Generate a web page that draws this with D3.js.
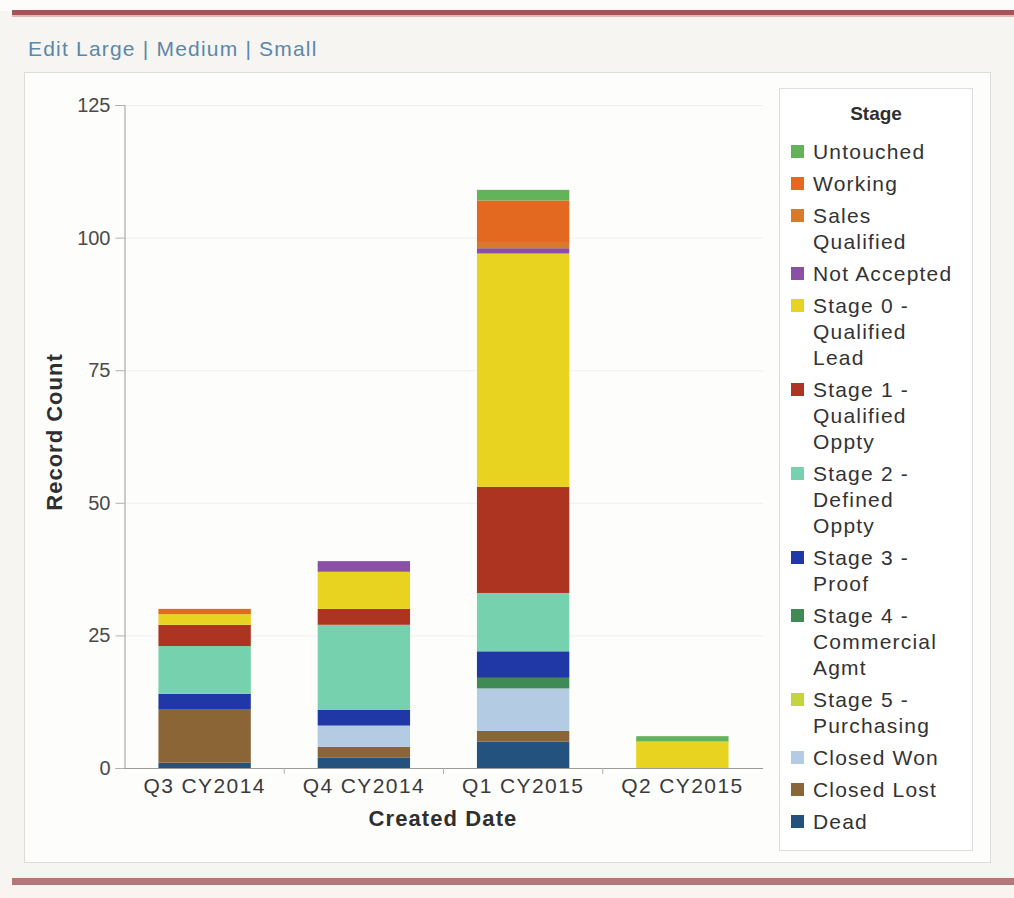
<!DOCTYPE html>
<html>
<head>
<meta charset="utf-8">
<script src="https://d3js.org/d3.v7.min.js"></script>
<style>
  body { margin: 0; background: #ffffff; }
  text { font-family: "Liberation Sans", Arial, sans-serif; }
</style>
</head>
<body>
<div id="my_dataviz"></div>
<script>
// categories and series (legend order, top to bottom)
var quarters = ["Q3 CY2014", "Q4 CY2014", "Q1 CY2015", "Q2 CY2015"];
var stages = ["Untouched", "Working", "Sales Qualified", "Not Accepted",
  "Stage 0 - Qualified Lead", "Stage 1 - Qualified Oppty", "Stage 2 - Defined Oppty",
  "Stage 3 - Proof", "Stage 4 - Commercial Agmt", "Stage 5 - Purchasing",
  "Closed Won", "Closed Lost", "Dead"];
var stageLines = [["Untouched"], ["Working"], ["Sales", "Qualified"], ["Not Accepted"],
  ["Stage 0 -", "Qualified", "Lead"], ["Stage 1 -", "Qualified", "Oppty"],
  ["Stage 2 -", "Defined", "Oppty"], ["Stage 3 -", "Proof"],
  ["Stage 4 -", "Commercial", "Agmt"], ["Stage 5 -", "Purchasing"],
  ["Closed Won"], ["Closed Lost"], ["Dead"]];
var stageColors = ["#63b35a", "#e2691f", "#d77a2c", "#8b4fa6", "#e9d321", "#ad3420",
  "#76d2ae", "#1f38a6", "#3f8a55", "#c4d43c", "#b3cbe3", "#8b6535", "#24527f"];

// record counts per quarter
var untouched    = [0, 0, 2, 1];
var working      = [1, 0, 8, 0];
var salesQual    = [0, 0, 1, 0];
var notAccepted  = [0, 2, 1, 0];
var stage0       = [2, 7, 44, 5];
var stage1       = [4, 3, 20, 0];
var stage2       = [9, 16, 11, 0];
var stage3       = [3, 3, 5, 0];
var stage4       = [0, 0, 2, 0];
var stage5       = [0, 0, 0, 0];
var closedWon    = [0, 4, 8, 0];
var closedLost   = [10, 2, 2, 0];
var dead         = [1, 2, 5, 0];

var yTicks = [0, 25, 50, 75, 100, 125];

var series = [untouched, working, salesQual, notAccepted, stage0, stage1, stage2,
  stage3, stage4, stage5, closedWon, closedLost, dead];

// build table rows for d3.stack
var data = quarters.map(function(q, i) {
  var row = {quarter: q};
  stages.forEach(function(s, j) { row[s] = series[j][i]; });
  return row;
});

var W = 1014, H = 898;
var svg = d3.select("#my_dataviz")
  .append("svg")
    .attr("width", W)
    .attr("height", H);

// page background and frame
svg.append("rect").attr("x", 0).attr("y", 0).attr("width", W).attr("height", H).attr("fill", "#f7f5f2");
svg.append("rect").attr("x", 0).attr("y", 0).attr("width", W).attr("height", 11).attr("fill", "#fdfcfb");
svg.append("rect").attr("x", 12).attr("y", 10).attr("width", W - 12).attr("height", 5).attr("fill", "#9f5757");
svg.append("rect").attr("x", 12).attr("y", 15).attr("width", W - 12).attr("height", 2).attr("fill", "#dcb9b6");
svg.append("rect").attr("x", 0).attr("y", 886).attr("width", W).attr("height", 12).attr("fill", "#fbf3f0");
svg.append("rect").attr("x", 12).attr("y", 878).attr("width", W - 12).attr("height", 7).attr("fill", "#b47777");

svg.append("text")
  .attr("x", 28)
  .attr("y", 56)
  .attr("fill", "#5b87a8")
  .style("font-size", "21px")
  .style("letter-spacing", "1.2px")
  .text("Edit Large | Medium | Small");

svg.append("rect")
  .attr("x", 24.5).attr("y", 72.5)
  .attr("width", 966).attr("height", 790)
  .attr("fill", "#fdfdfc")
  .attr("stroke", "#dcdcda");

// scales
var x = d3.scaleBand()
  .domain(quarters)
  .range([125, 762])
  .paddingInner(0.42)
  .paddingOuter(0.21);

var y = d3.scaleLinear()
  .domain([0, 125])
  .range([768, 105]);

// grid
svg.selectAll("gridLine")
  .data(yTicks.slice(1))
  .enter()
  .append("line")
    .attr("x1", 125)
    .attr("x2", 763)
    .attr("y1", function(d) { return y(d) + 0.5; })
    .attr("y2", function(d) { return y(d) + 0.5; })
    .attr("stroke", "#f0efed")
    .attr("stroke-width", 1);

// stacked bars, Dead at the bottom
var stack = d3.stack().keys(stages.slice().reverse());
var layers = stack(data);

svg.append("g")
  .selectAll("g")
  .data(layers)
  .enter()
  .append("g")
    .attr("fill", function(d) { return stageColors[stages.indexOf(d.key)]; })
  .selectAll("rect")
  .data(function(d) { return d; })
  .enter()
  .append("rect")
    .attr("x", function(d) { return x(d.data.quarter); })
    .attr("y", function(d) { return y(d[1]); })
    .attr("width", x.bandwidth())
    .attr("height", function(d) { return y(d[0]) - y(d[1]); });

// Y axis
svg.append("g")
  .attr("transform", "translate(124.5,0)")
  .call(d3.axisLeft(y).tickValues(yTicks).tickSize(9).tickPadding(5))
  .call(function(g) {
    g.select(".domain").attr("stroke", "#9a9a9a");
    g.selectAll(".tick line").attr("stroke", "#b0b0b0");
    g.selectAll(".tick text")
      .attr("fill", "#4a4a4a")
      .style("font-size", "20px")
      .style("font-family", "Liberation Sans, Arial, sans-serif");
  });

// X axis
svg.append("g")
  .attr("transform", "translate(0,768.5)")
  .call(d3.axisBottom(x).tickSize(0).tickPadding(10))
  .call(function(g) {
    g.select(".domain").attr("stroke", "#9a9a9a").attr("d", "M124,0H763");
    g.selectAll(".tick text")
      .attr("fill", "#3a3a3a")
      .style("font-size", "21px")
      .style("letter-spacing", "1.4px")
      .style("font-family", "Liberation Sans, Arial, sans-serif");
  });

// small marks between the categories
svg.selectAll("xSep")
  .data(quarters.slice(1))
  .enter()
  .append("line")
    .attr("x1", function(d) { return x(d) - x.step() * 0.21; })
    .attr("x2", function(d) { return x(d) - x.step() * 0.21; })
    .attr("y1", 768)
    .attr("y2", 774)
    .attr("stroke", "#b0b0b0");

// axis titles
svg.append("text")
  .attr("x", 443)
  .attr("y", 826)
  .style("text-anchor", "middle")
  .style("font-size", "22px")
  .style("letter-spacing", "1.1px")
  .style("font-weight", "bold")
  .attr("fill", "#2f2f2f")
  .text("Created Date");

svg.append("text")
  .attr("transform", "translate(62,432) rotate(-90)")
  .style("text-anchor", "middle")
  .style("font-size", "22px")
  .style("letter-spacing", "1px")
  .style("font-weight", "bold")
  .attr("fill", "#2f2f2f")
  .text("Record Count");

// legend
svg.append("rect")
  .attr("x", 779.5).attr("y", 88.5)
  .attr("width", 193).attr("height", 762)
  .attr("fill", "#ffffff")
  .attr("stroke", "#dededc");

svg.append("text")
  .attr("x", 876)
  .attr("y", 120)
  .style("text-anchor", "middle")
  .style("font-size", "19px")
  .style("font-weight", "bold")
  .attr("fill", "#2f2f2f")
  .text("Stage");

var lineH = 26, gap = 6, ly = 152;
var legendPos = stageLines.map(function(lines) {
  var p = ly;
  ly += lines.length * lineH + gap;
  return p;
});

var legend = svg.selectAll("legendItem")
  .data(stages)
  .enter()
  .append("g")
    .attr("transform", function(d, i) { return "translate(0," + legendPos[i] + ")"; });

legend.append("rect")
  .attr("x", 791)
  .attr("y", -7)
  .attr("width", 13)
  .attr("height", 13)
  .attr("fill", function(d, i) { return stageColors[i]; });

legend.append("text")
  .attr("x", 813)
  .attr("y", 7)
  .attr("fill", "#333")
  .style("font-size", "21px")
  .style("letter-spacing", "1.2px")
  .selectAll("tspan")
  .data(function(d, i) { return stageLines[i]; })
  .enter()
  .append("tspan")
    .attr("x", 813)
    .attr("dy", function(d, k) { return k === 0 ? 0 : lineH; })
    .text(function(d) { return d; });
</script>
</body>
</html>
